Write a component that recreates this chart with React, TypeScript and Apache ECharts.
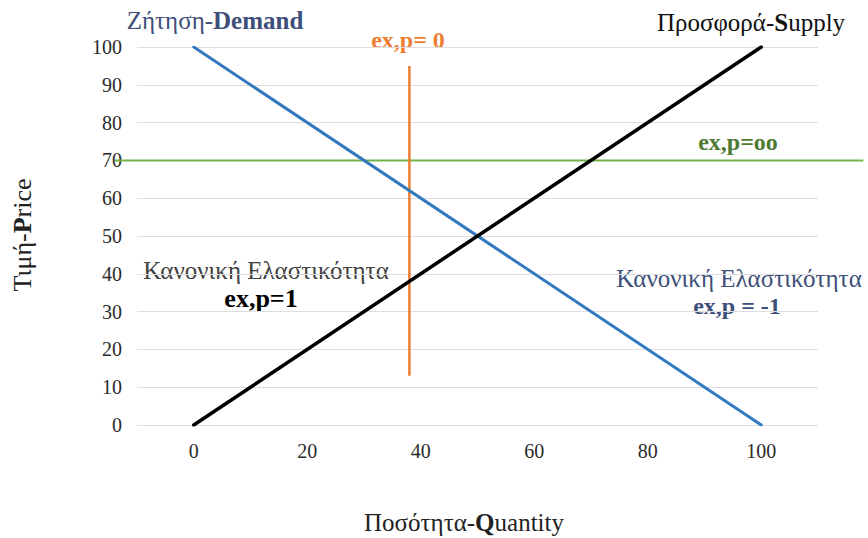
import React, { useEffect, useRef } from "react";
import * as echarts from "echarts";

const quantityEnds = [0, 100];
const demandPrices = [100, 0];
const supplyPrices = [0, 100];
const elasticPrice = 70;
const elasticQtyRange = [-14, 118];
const inelasticQty = 38;
const inelasticPriceRange = [13, 95];
const xTickLabels = [0, 20, 40, 60, 80, 100];
const yTickLabels = [0, 10, 20, 30, 40, 50, 60, 70, 80, 90, 100];

const SERIF = "Liberation Serif";

export default function App() {
  const ref = useRef<HTMLDivElement>(null);
  useEffect(() => {
    if (!ref.current) return;
    const chart = echarts.init(ref.current, null, { renderer: "svg" });
    const slate = "#3E4F7A";
    const T = 25;
    const option: any = {
      animation: false,
      backgroundColor: "#ffffff",
      grid: { left: 137, right: 50, top: 47, bottom: 113 },
      xAxis: {
        type: "value",
        min: -10,
        max: 110,
        interval: 10,
        axisLine: { show: false },
        axisTick: { show: false },
        splitLine: { show: false },
        axisLabel: {
          margin: 16,
          fontSize: 20,
          color: "#2a2a2a",
          fontFamily: SERIF,
          formatter: (v: number) => (xTickLabels.includes(v) ? String(v) : ""),
        },
      },
      yAxis: {
        type: "value",
        min: 0,
        max: 100,
        interval: 10,
        axisLine: { show: false },
        axisTick: { show: false },
        splitLine: { lineStyle: { color: "#dedede", width: 1 } },
        axisLabel: {
          margin: 15,
          fontSize: 20,
          color: "#2a2a2a",
          fontFamily: SERIF,
          formatter: (v: number) => (yTickLabels.includes(v) ? String(v) : ""),
        },
      },
      series: [
        {
          type: "line",
          name: "inelastic",
          symbol: "none",
          data: inelasticPriceRange.map((p) => [inelasticQty, p]),
          lineStyle: { color: "#ED7D31", width: 2.5 },
          z: 3,
        },
        {
          type: "line",
          name: "Demand",
          symbol: "none",
          data: quantityEnds.map((q, i) => [q, demandPrices[i]]),
          lineStyle: { color: "#3379C0", width: 3, cap: "round" },
          z: 4,
        },
        {
          type: "line",
          name: "Supply",
          symbol: "none",
          data: quantityEnds.map((q, i) => [q, supplyPrices[i]]),
          lineStyle: { color: "#000000", width: 3.5, cap: "round" },
          z: 5,
        },
      ],
      graphic: [
        {
          type: "text",
          x: 215,
          y: 20,
          style: {
            text: "{n|Ζήτηση-}{b|Demand}",
            align: "center",
            verticalAlign: "middle",
            rich: {
              n: { fontSize: T, fontFamily: SERIF, fill: slate },
              b: { fontSize: T, fontFamily: SERIF, fill: slate, fontWeight: "bold" },
            },
          },
        },
        {
          type: "text",
          x: 408,
          y: 40,
          style: {
            text: "ex,p= 0",
            align: "center",
            verticalAlign: "middle",
            fontSize: 24,
            fontWeight: "bold",
            fontFamily: SERIF,
            fill: "#ED7D31",
          },
        },
        {
          type: "text",
          x: 751,
          y: 22,
          style: {
            text: "{n|Προσφορά-}{b|S}{n|upply}",
            align: "center",
            verticalAlign: "middle",
            rich: {
              n: { fontSize: T, fontFamily: SERIF, fill: "#111111" },
              b: { fontSize: T, fontFamily: SERIF, fill: "#111111", fontWeight: "bold" },
            },
          },
        },
        {
          type: "text",
          x: 738,
          y: 142,
          style: {
            text: "ex,p=oo",
            align: "center",
            verticalAlign: "middle",
            fontSize: 24,
            fontWeight: "bold",
            fontFamily: SERIF,
            fill: "#4F7A32",
          },
        },
        {
          type: "text",
          x: 266,
          y: 270,
          style: {
            text: "Κανονική Ελαστικότητα",
            align: "center",
            verticalAlign: "middle",
            fontSize: 25,
            fontFamily: SERIF,
            fill: "#404040",
          },
        },
        {
          type: "text",
          x: 261,
          y: 298,
          style: {
            text: "ex,p=1",
            align: "center",
            verticalAlign: "middle",
            fontSize: 26,
            fontWeight: "bold",
            fontFamily: SERIF,
            fill: "#000000",
          },
        },
        {
          type: "text",
          x: 739,
          y: 278,
          style: {
            text: "Κανονική Ελαστικότητα",
            align: "center",
            verticalAlign: "middle",
            fontSize: 25,
            fontFamily: SERIF,
            fill: slate,
          },
        },
        {
          type: "text",
          x: 737,
          y: 306,
          style: {
            text: "ex,p = -1",
            align: "center",
            verticalAlign: "middle",
            fontSize: 24,
            fontWeight: "bold",
            fontFamily: SERIF,
            fill: slate,
          },
        },
        {
          type: "text",
          x: 464,
          y: 522,
          style: {
            text: "{n|Ποσότητα-}{b|Q}{n|uantity}",
            align: "center",
            verticalAlign: "middle",
            rich: {
              n: { fontSize: T, fontFamily: SERIF, fill: "#222222" },
              b: { fontSize: T, fontFamily: SERIF, fill: "#222222", fontWeight: "bold" },
            },
          },
        },
        {
          type: "text",
          x: 22,
          y: 235,
          rotation: Math.PI / 2,
          style: {
            text: "{n|Τιμή-}{b|P}{n|rice}",
            align: "center",
            verticalAlign: "middle",
            rich: {
              n: { fontSize: 26, fontFamily: SERIF, fill: "#222222" },
              b: { fontSize: 26, fontFamily: SERIF, fill: "#222222", fontWeight: "bold" },
            },
          },
        },
      ],
    };
    chart.setOption(option);
    // perfectly elastic line extends past the plot area; place it via the axes' own scale
    const p1 = chart.convertToPixel({ gridIndex: 0 }, [elasticQtyRange[0], elasticPrice]);
    const p2 = chart.convertToPixel({ gridIndex: 0 }, [elasticQtyRange[1], elasticPrice]);
    chart.setOption({
      graphic: [
        {
          id: "elasticLine",
          type: "line",
          z: 1,
          shape: { x1: p1[0], y1: p1[1], x2: p2[0], y2: p2[1] },
          style: { stroke: "#72B34B", lineWidth: 2 },
        },
      ],
    });
    return () => chart.dispose();
  }, []);
  return (
    <div
      ref={ref}
      style={{ position: "fixed", left: 0, top: 0, width: 868, height: 538 }}
    />
  );
}
